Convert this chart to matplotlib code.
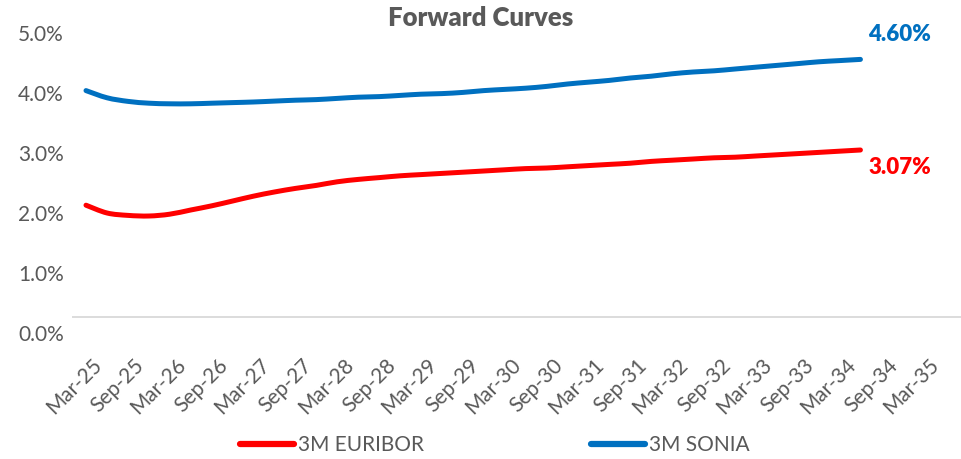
import matplotlib
matplotlib.use("Agg")
import matplotlib.pyplot as plt
import matplotlib.dates as mdates
import matplotlib.transforms as mtrans
from matplotlib.path import Path
from matplotlib.patches import PathPatch
from matplotlib.lines import Line2D
import pandas as pd
import numpy as np

plt.rcParams['font.family'] = ['Lato', 'DejaVu Sans']

# ---- data ----
dates = pd.date_range("2025-03-01", periods=38, freq="3MS")
euribor = [2.13, 2.00, 1.96, 1.95, 1.98, 2.05, 2.12, 2.20, 2.28, 2.35,
           2.41, 2.46, 2.52, 2.56, 2.59, 2.62, 2.64, 2.66, 2.68, 2.70,
           2.72, 2.74, 2.75, 2.77, 2.79, 2.81, 2.83, 2.86, 2.88, 2.90,
           2.92, 2.93, 2.95, 2.97, 2.99, 3.01, 3.03, 3.05]
sonia = [4.04, 3.92, 3.86, 3.83, 3.82, 3.82, 3.83, 3.84, 3.85, 3.865,
         3.88, 3.89, 3.91, 3.93, 3.94, 3.96, 3.98, 3.99, 4.01, 4.04,
         4.06, 4.08, 4.11, 4.15, 4.18, 4.21, 4.25, 4.28, 4.32, 4.35,
         4.37, 4.40, 4.43, 4.46, 4.49, 4.52, 4.54, 4.56]
tick_dates = pd.date_range("2025-03-01", periods=21, freq="6MS")
tick_labels = [d.strftime("%b-%y") for d in tick_dates]
y_ticks = [0, 1, 2, 3, 4, 5]
end_label_euribor = "3.07%"
end_label_sonia = "4.60%"

RED = "#FF0000"
BLUE = "#0070C0"
GREY = "#595959"
FS = 15

W, H = 961, 459
fig = plt.figure(figsize=(W / 100, H / 100), dpi=100)

left_px, right_px, top_px, bottom_px = 72, 961, 20, 340
ax = fig.add_axes([left_px / W, 1 - bottom_px / H,
                   (right_px - left_px) / W, (bottom_px - top_px) / H])


def smooth_path(xs, ys):
    """Excel-style smoothed line: Catmull-Rom segments as cubic Beziers."""
    p = np.column_stack([xs, ys]).astype(float)
    verts = [p[0]]
    codes = [Path.MOVETO]
    n = len(p)
    for i in range(n - 1):
        p0 = p[i - 1] if i > 0 else p[i]
        p1 = p[i]
        p2 = p[i + 1]
        p3 = p[i + 2] if i + 2 < n else p[i + 1]
        c1 = p1 + (p2 - p0) / 6.0
        c2 = p2 - (p3 - p1) / 6.0
        verts += [c1, c2, p2]
        codes += [Path.CURVE4] * 3
    return Path(verts, codes)


xnum = mdates.date2num(dates)
for vals, col in [(euribor, RED), (sonia, BLUE)]:
    patch = PathPatch(smooth_path(xnum, vals), fill=False, edgecolor=col,
                      lw=3.6, capstyle='round', joinstyle='round',
                      transform=ax.transData)
    ax.add_patch(patch)

# scales
px_per_pct = 60.0
y0_px = 333
ax.set_ylim((y0_px - bottom_px) / px_per_pct, (y0_px - top_px) / px_per_pct)
x0 = mdates.date2num(tick_dates[0])
day_per_px = (mdates.date2num(tick_dates[-1]) - x0) / 837.0
ax.set_xlim(x0 - (86 - left_px) * day_per_px, x0 + (right_px - 86) * day_per_px)

ax.axhline((y0_px - 317) / px_per_pct, color="#D9D9D9", lw=1.3, zorder=0)

for s in ax.spines.values():
    s.set_visible(False)

ax.set_yticks(y_ticks)
ax.set_yticklabels([f"{v:.1f}%" for v in y_ticks], fontsize=FS, color=GREY)
ax.set_xticks(mdates.date2num(tick_dates))
ax.set_xticklabels(tick_labels, rotation=45, ha='right', va='top',
                   rotation_mode='anchor', fontsize=FS, color=GREY)
ax.tick_params(axis='both', length=0)
ax.tick_params(axis='x', pad=11)
ax.tick_params(axis='y', pad=6)
shift = mtrans.ScaledTranslation(6 / 100, 0, fig.dpi_scale_trans)
for lab in ax.get_xticklabels():
    lab.set_transform(lab.get_transform() + shift)

# end labels
ax.annotate(end_label_sonia, xy=(xnum[-1], sonia[-1]), xytext=(8, 25),
            textcoords='offset pixels', color=BLUE, fontsize=16, fontweight='heavy',
            ha='left', va='center')
ax.annotate(end_label_euribor, xy=(xnum[-1], euribor[-1]), xytext=(8, -18),
            textcoords='offset pixels', color=RED, fontsize=16, fontweight='heavy',
            ha='left', va='center')

fig.text(481 / W, 1 - 18 / H, "Forward Curves", ha='center', va='center',
         fontsize=18.5, fontweight='heavy', color=GREY)

handles = [Line2D([], [], color=RED, lw=4.5, solid_capstyle='round'),
           Line2D([], [], color=BLUE, lw=4.5, solid_capstyle='round')]
leg = fig.legend(handles, ["3M EURIBOR", "3M SONIA"], loc='center',
                 bbox_to_anchor=(495 / W, 1 - 445 / H), ncol=2,
                 frameon=False, fontsize=FS, handlelength=2.6, handletextpad=0.2,
                 columnspacing=8.0)
for t in leg.get_texts():
    t.set_color(GREY)

fig.savefig("out.png", dpi=100)
